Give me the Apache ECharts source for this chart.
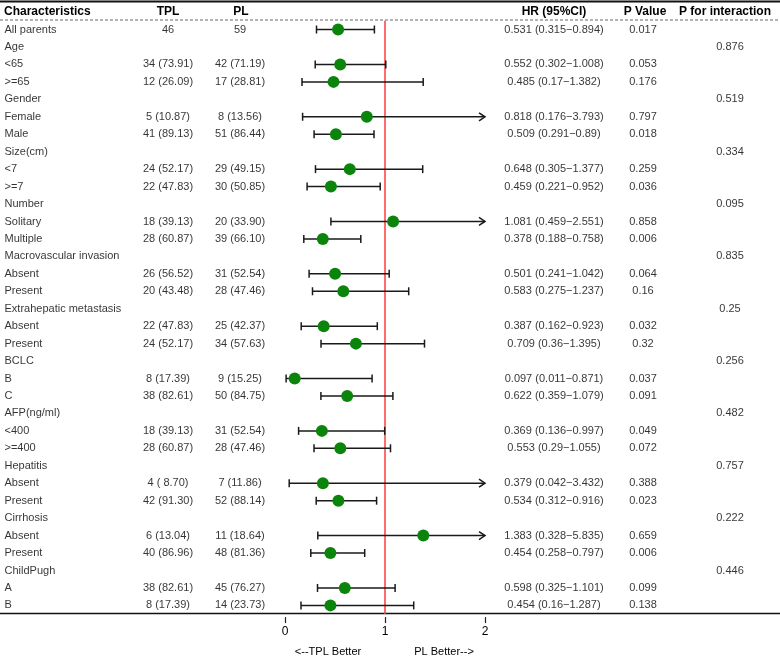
<!DOCTYPE html>
<html>
<head>
<meta charset="utf-8">
<title>Forest plot</title>
<script src="https://cdn.jsdelivr.net/npm/echarts@6/dist/echarts.min.js"></script>
<style>
  html, body { margin: 0; padding: 0; background: #fff; }
  #main { width: 780px; height: 658px; }
</style>
</head>
<body>
<div id="main"></div>
<script>
// ---- data ----
var rowLabels = ['All parents', 'Age', '<65', '>=65', 'Gender', 'Female', 'Male',
    'Size(cm)', '<7', '>=7', 'Number', 'Solitary', 'Multiple',
    'Macrovascular invasion', 'Absent', 'Present', 'Extrahepatic metastasis', 'Absent', 'Present',
    'BCLC', 'B', 'C', 'AFP(ng/ml)', '<400', '>=400', 'Hepatitis', 'Absent', 'Present',
    'Cirrhosis', 'Absent', 'Present', 'ChildPugh', 'A', 'B'];
var tplText = ['46', '', '34 (73.91)', '12 (26.09)', '', '5 (10.87)', '41 (89.13)',
    '', '24 (52.17)', '22 (47.83)', '', '18 (39.13)', '28 (60.87)',
    '', '26 (56.52)', '20 (43.48)', '', '22 (47.83)', '24 (52.17)',
    '', '8 (17.39)', '38 (82.61)', '', '18 (39.13)', '28 (60.87)', '', '4 ( 8.70)', '42 (91.30)',
    '', '6 (13.04)', '40 (86.96)', '', '38 (82.61)', '8 (17.39)'];
var plText = ['59', '', '42 (71.19)', '17 (28.81)', '', '8 (13.56)', '51 (86.44)',
    '', '29 (49.15)', '30 (50.85)', '', '20 (33.90)', '39 (66.10)',
    '', '31 (52.54)', '28 (47.46)', '', '25 (42.37)', '34 (57.63)',
    '', '9 (15.25)', '50 (84.75)', '', '31 (52.54)', '28 (47.46)', '', '7 (11.86)', '52 (88.14)',
    '', '11 (18.64)', '48 (81.36)', '', '45 (76.27)', '14 (23.73)'];
var hr = [0.531, null, 0.552, 0.485, null, 0.818, 0.509,
    null, 0.648, 0.459, null, 1.081, 0.378,
    null, 0.501, 0.583, null, 0.387, 0.709,
    null, 0.097, 0.622, null, 0.369, 0.553, null, 0.379, 0.534,
    null, 1.383, 0.454, null, 0.598, 0.454];
var lower = [0.315, null, 0.302, 0.17, null, 0.176, 0.291,
    null, 0.305, 0.221, null, 0.459, 0.188,
    null, 0.241, 0.275, null, 0.162, 0.36,
    null, 0.011, 0.359, null, 0.136, 0.29, null, 0.042, 0.312,
    null, 0.328, 0.258, null, 0.325, 0.16];
var upper = [0.894, null, 1.008, 1.382, null, 3.793, 0.89,
    null, 1.377, 0.952, null, 2.551, 0.758,
    null, 1.042, 1.237, null, 0.923, 1.395,
    null, 0.871, 1.079, null, 0.997, 1.055, null, 3.432, 0.916,
    null, 5.835, 0.797, null, 1.101, 1.287];
var pValue = ['0.017', '', '0.053', '0.176', '', '0.797', '0.018',
    '', '0.259', '0.036', '', '0.858', '0.006',
    '', '0.064', '0.16', '', '0.032', '0.32',
    '', '0.037', '0.091', '', '0.049', '0.072', '', '0.388', '0.023',
    '', '0.659', '0.006', '', '0.099', '0.138'];
var pInteraction = ['', '0.876', '', '', '0.519', '', '',
    '0.334', '', '', '0.095', '', '',
    '0.835', '', '', '0.25', '', '',
    '0.256', '', '', '0.482', '', '', '0.757', '', '',
    '0.222', '', '', '0.446', '', ''];
var xTicks = [0, 1, 2];
var refValue = 1;

var hrText = hr.map(function (v, i) {
    return v === null ? '' : v + ' (' + lower[i] + '\u2212' + upper[i] + ')';
});

// ---- chart ----
var myChart = echarts.init(document.getElementById('main'), null, { renderer: 'canvas' });

var FONT = "'Liberation Sans', Arial, sans-serif";
var TXT = '#000';
var rowIdx = rowLabels.map(function (d, i) { return String(i); });
var gridTop = 20.8, gridH = 593.3;
var xMin = xTicks[0], xMax = xTicks[xTicks.length - 1];

// text columns
var columns = [
    { text: rowLabels, x: 4, align: 'left' },
    { text: tplText, x: 168, align: 'center' },
    { text: plText, x: 240, align: 'center' },
    { text: hrText, x: 554, align: 'center' },
    { text: pValue, x: 643, align: 'center' },
    { text: pInteraction, x: 730, align: 'center' }
];

var grids = [{ left: 285, width: 200, top: gridTop, height: gridH }];
var xAxes = [{
    gridIndex: 0, type: 'value', min: xMin, max: xMax, interval: 1, offset: 3,
    axisLine: { show: false },
    axisTick: { show: true, length: 6, lineStyle: { color: '#222', width: 1.2 } },
    axisLabel: { color: TXT, fontSize: 12, fontFamily: FONT, margin: 9 },
    splitLine: { show: false }
}];
var yAxes = [{
    gridIndex: 0, type: 'category', data: rowIdx, inverse: true,
    axisLine: { show: false }, axisTick: { show: false }, axisLabel: { show: false }
}];

var series = [];

columns.forEach(function (col, k) {
    var g = k + 1;
    grids.push({ left: col.align === 'left' ? col.x : col.x - 50, width: 100, top: gridTop, height: gridH });
    xAxes.push({ gridIndex: g, type: 'value', min: col.align === 'left' ? 0 : -1, max: 1, show: false });
    yAxes.push({ gridIndex: g, type: 'category', data: rowIdx, inverse: true, show: false });
    series.push({
        type: 'scatter',
        xAxisIndex: g, yAxisIndex: g,
        symbolSize: 1,
        silent: true,
        itemStyle: { color: 'transparent' },
        data: col.text.map(function (t, i) { return [0, i]; }),
        label: {
            show: true,
            position: col.align === 'left' ? 'right' : 'inside',
            distance: 0,
            align: col.align,
            verticalAlign: 'middle',
            color: TXT,
            fontSize: 11,
            fontFamily: FONT,
            formatter: function (p) { return col.text[p.dataIndex]; }
        }
    });
});

// confidence intervals
var ciData = [];
var ptData = [];
hr.forEach(function (v, i) {
    if (v === null) return;
    ciData.push([lower[i], upper[i], i]);
    ptData.push([v, i]);
});

series.push({
    type: 'custom',
    xAxisIndex: 0, yAxisIndex: 0,
    silent: true,
    clip: false,
    encode: { x: [0, 1], y: 2 },
    data: ciData,
    renderItem: function (params, api) {
        var lo = api.value(0), hi = api.value(1), row = api.value(2);
        var over = hi > xMax;
        var p1 = api.coord([Math.max(lo, xMin), row]);
        var p2 = api.coord([Math.min(hi, xMax), row]);
        var st = { stroke: '#1a1a1a', lineWidth: 1.5, fill: 'none' };
        var kids = [
            { type: 'line', shape: { x1: p1[0], y1: p1[1], x2: p2[0], y2: p2[1] }, style: st },
            { type: 'line', shape: { x1: p1[0], y1: p1[1] - 4, x2: p1[0], y2: p1[1] + 4 }, style: st }
        ];
        if (over) {
            kids.push({ type: 'polyline', shape: { points: [[p2[0] - 6, p2[1] - 4], [p2[0], p2[1]], [p2[0] - 6, p2[1] + 4]] }, style: st });
        } else {
            kids.push({ type: 'line', shape: { x1: p2[0], y1: p2[1] - 4, x2: p2[0], y2: p2[1] + 4 }, style: st });
        }
        return { type: 'group', children: kids };
    },
    z: 2
});

series.push({
    type: 'scatter',
    xAxisIndex: 0, yAxisIndex: 0,
    symbolSize: 12,
    silent: true,
    itemStyle: { color: '#0b840b', opacity: 1 },
    data: ptData,
    z: 3,
    markLine: {
        silent: true,
        symbol: 'none',
        label: { show: false },
        lineStyle: { color: '#ff3b3b', width: 1.5, type: 'solid' },
        data: [{ xAxis: refValue }],
        z: 1
    }
});

var headers = [
    { text: 'Characteristics', x: 4, align: 'left' },
    { text: 'TPL', x: 168, align: 'center' },
    { text: 'PL', x: 241, align: 'center' },
    { text: 'HR (95%CI)', x: 554, align: 'center' },
    { text: 'P Value', x: 645, align: 'center' },
    { text: 'P for interaction', x: 725, align: 'center' }
];

var graphic = [
    { type: 'line', shape: { x1: 0, y1: 1.5, x2: 780, y2: 1.5 }, style: { stroke: '#111', lineWidth: 2 }, silent: true },
    { type: 'line', shape: { x1: 0, y1: 20, x2: 780, y2: 20 }, style: { stroke: '#666', lineWidth: 1, lineDash: [3, 2] }, silent: true },
    { type: 'line', shape: { x1: 0, y1: 613.5, x2: 780, y2: 613.5 }, style: { stroke: '#111', lineWidth: 1.5 }, silent: true },
    { type: 'text', x: 328, y: 652, style: { text: '<--TPL Better', fill: TXT, font: '11px ' + FONT, textAlign: 'center', textVerticalAlign: 'middle' }, silent: true },
    { type: 'text', x: 444, y: 652, style: { text: 'PL Better-->', fill: TXT, font: '11px ' + FONT, textAlign: 'center', textVerticalAlign: 'middle' }, silent: true }
];
headers.forEach(function (h) {
    graphic.push({
        type: 'text', x: h.x, y: 11.5, silent: true,
        style: { text: h.text, fill: '#000', font: 'bold 12px ' + FONT, textAlign: h.align, textVerticalAlign: 'middle' }
    });
});

var option = {
    backgroundColor: '#fff',
    animation: false,
    grid: grids,
    xAxis: xAxes,
    yAxis: yAxes,
    series: series,
    graphic: graphic
};

myChart.setOption(option);
</script>
</body>
</html>
